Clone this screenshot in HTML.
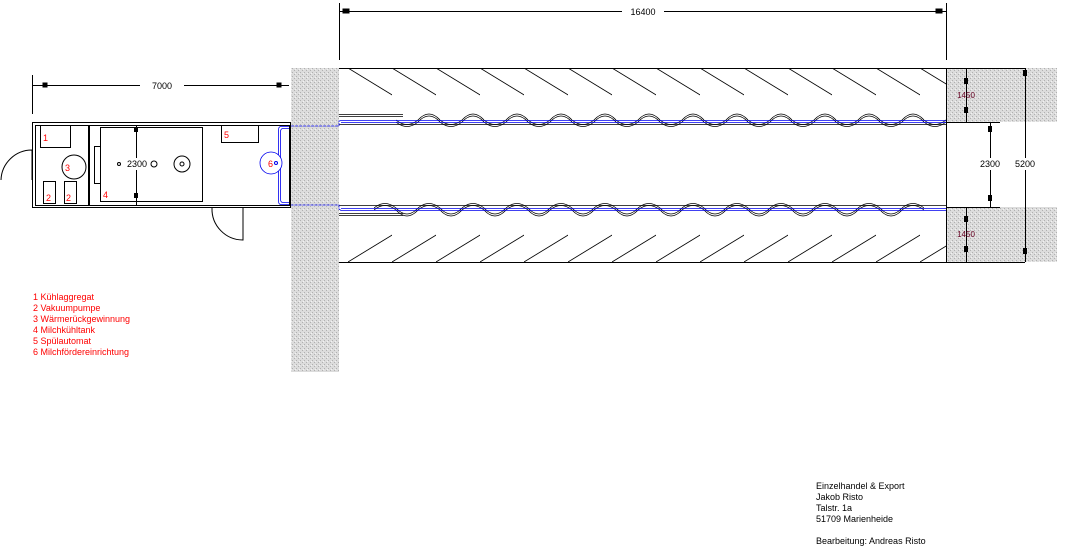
<!DOCTYPE html>
<html><head><meta charset="utf-8"><style>
html,body{margin:0;padding:0;background:#fff;}
svg{display:block;font-family:"Liberation Sans",sans-serif;}
</style></head><body>
<svg width="1078" height="556" viewBox="0 0 1078 556" xmlns="http://www.w3.org/2000/svg">
<defs>
<pattern id="g" width="4" height="4" patternUnits="userSpaceOnUse">
<rect width="4" height="4" fill="#dcdcdc"/><rect x="0" y="0" width="1" height="1" fill="#b0b0b0"/><rect x="2" y="2" width="1" height="1" fill="#b0b0b0"/><rect x="3" y="1" width="1" height="1" fill="#f2f2f2"/>
</pattern>
<pattern id="ht" x="348" y="68" width="44" height="40" patternUnits="userSpaceOnUse">
<line x1="0" y1="0" x2="59" y2="36" stroke="#000" stroke-width="0.8"/>
</pattern>
<pattern id="wt" x="396" y="100" width="44" height="30" patternUnits="userSpaceOnUse">
<path d="M0 20 Q11 29 22 20 Q33 8 44 20" fill="none" stroke="#000" stroke-width="0.8"/>
<path d="M0 22 Q11 31 22 22 Q33 10 44 22" fill="none" stroke="#000" stroke-width="0.8"/>
</pattern>
</defs>
<g stroke="#000" fill="none" stroke-width="1">
<line x1="339.5" y1="3" x2="339.5" y2="60"/><line x1="946.5" y1="3" x2="946.5" y2="60"/>
<line x1="339" y1="11.5" x2="946" y2="11.5"/>
<rect x="343" y="9" width="6" height="4" fill="#000"/><rect x="936" y="9" width="6" height="4" fill="#000"/>
<line x1="32.5" y1="75" x2="32.5" y2="114"/>
<line x1="32" y1="85.5" x2="289" y2="85.5"/>
<rect x="43" y="83" width="4" height="4" fill="#000"/><rect x="277" y="83" width="4" height="4" fill="#000"/>
</g>
<rect x="140" y="78" width="44" height="12" fill="#fff"/>
<text x="162" y="89" font-size="9" text-anchor="middle">7000</text>
<rect x="622" y="5" width="42" height="12" fill="#fff"/>
<text x="643" y="15" font-size="9" text-anchor="middle">16400</text>

<rect x="291" y="68" width="48" height="304" fill="url(#g)"/>
<rect x="946" y="68" width="111" height="54" fill="url(#g)"/>
<rect x="946" y="207" width="111" height="55" fill="url(#g)"/>

<g stroke="#000" fill="none">
<line x1="339" y1="68.5" x2="1025" y2="68.5"/>
<line x1="339" y1="262.5" x2="1025" y2="262.5"/>
<line x1="946.5" y1="68" x2="946.5" y2="262"/>
<line x1="946" y1="122.5" x2="1000" y2="122.5"/>
<line x1="946" y1="207.5" x2="1000" y2="207.5"/>
<line x1="990.5" y1="122" x2="990.5" y2="207"/>
<line x1="1025.5" y1="68" x2="1025.5" y2="262"/>
<line x1="966.5" y1="68" x2="966.5" y2="122"/>
<line x1="966.5" y1="207" x2="966.5" y2="262"/>
</g>
<g fill="#000">
<rect x="964" y="78" width="4" height="6"/><rect x="964" y="107" width="4" height="6"/>
<rect x="964" y="216" width="4" height="6"/><rect x="964" y="246" width="4" height="6"/>
<rect x="988" y="126" width="4" height="6"/><rect x="988" y="195" width="4" height="6"/>
<rect x="1023" y="70" width="4" height="6"/><rect x="1023" y="248" width="4" height="6"/>
</g>
<rect x="975" y="158" width="30" height="12" fill="#fff"/>
<rect x="1010" y="158" width="30" height="12" fill="#fff"/>
<text x="990" y="167" font-size="9" text-anchor="middle">2300</text>
<text x="1025" y="167" font-size="9" text-anchor="middle">5200</text>
<text x="966" y="98" font-size="8" text-anchor="middle" fill="#602">1450</text>
<text x="966" y="237" font-size="8" text-anchor="middle" fill="#602">1450</text>

<rect x="348" y="68" width="598" height="37" fill="url(#ht)"/>
<g transform="translate(0,330) scale(1,-1)">
<rect x="348" y="68" width="598" height="37" fill="url(#ht)"/>
<rect x="396" y="100" width="550" height="30" fill="url(#wt)" transform="translate(-22,0)"/>
</g>
<rect x="396" y="100" width="550" height="30" fill="url(#wt)"/>
<g stroke="#000" fill="none" stroke-width="0.8">
<line x1="339" y1="114.5" x2="403" y2="114.5"/><line x1="339" y1="116.5" x2="403" y2="116.5"/>
<line x1="339" y1="124.5" x2="946" y2="124.5"/>
<line x1="339" y1="213.5" x2="403" y2="213.5"/><line x1="339" y1="215.5" x2="403" y2="215.5"/>
<line x1="339" y1="205.5" x2="946" y2="205.5"/>
</g>
<g stroke="#0000ee" fill="none" stroke-width="0.8">
<line x1="341" y1="120.5" x2="946" y2="120.5"/><line x1="341" y1="122.5" x2="946" y2="122.5"/>
<line x1="341" y1="208.5" x2="946" y2="208.5"/><line x1="341" y1="210.5" x2="946" y2="210.5"/>
<path d="M341 120.5 L339 121 L339 126 L291 126" stroke-dasharray="3,1"/>
<path d="M341 210.5 L339 209 L339 205 L291 205" stroke-dasharray="3,1"/>
<path d="M291 126.5 L281 126.5 Q278.5 126.5 278.5 130 L278.5 201 Q278.5 204.5 281 204.5 L291 204.5"/>
<path d="M291 128.5 L283 128.5 Q280.5 128.5 280.5 132 L280.5 199 Q280.5 202.5 283 202.5 L291 202.5"/>
<circle cx="271" cy="163" r="11" fill="#fff"/>
</g>

<g stroke="#000" fill="none">
<rect x="32.5" y="122.5" width="258" height="85"/>
<rect x="35.5" y="125.5" width="254" height="80"/>
<line x1="89" y1="125" x2="89" y2="205" stroke-width="2"/>
<rect x="100.5" y="127.5" width="102" height="74"/>
<rect x="94.5" y="146.5" width="6" height="37"/>
<rect x="40.5" y="125.5" width="30" height="22"/>
<circle cx="74" cy="167" r="12"/>
<rect x="43.5" y="181.5" width="12" height="22"/>
<rect x="64.5" y="181.5" width="12" height="22"/>
<rect x="221.5" y="125.5" width="37" height="17"/>
<line x1="136.5" y1="125" x2="136.5" y2="205"/>
<circle cx="182" cy="164" r="8"/>
<circle cx="182" cy="164" r="2"/>
<circle cx="119" cy="164" r="1.5"/>
<circle cx="154" cy="164" r="3"/>
<path d="M1 180 A31 31 0 0 1 32 150 M32 150 L32 180"/>
<path d="M212 208 A31 31 0 0 0 243 240 L243 208"/>
</g>
<rect x="134" y="127" width="4" height="5" fill="#000"/><rect x="134" y="193" width="4" height="5" fill="#000"/>
<rect x="125" y="158" width="24" height="12" fill="#fff"/>
<text x="137" y="167" font-size="9" text-anchor="middle">2300</text>
<circle cx="276" cy="163" r="1.5" fill="none" stroke="#00e"/>
<g fill="#f00" font-size="9">
<text x="43" y="141">1</text><text x="65" y="171">3</text>
<text x="46" y="201">2</text><text x="66" y="201">2</text>
<text x="103" y="198">4</text><text x="224" y="138">5</text>
<text x="268" y="167">6</text>
<text x="33" y="300">1 Kühlaggregat</text>
<text x="33" y="311">2 Vakuumpumpe</text>
<text x="33" y="322">3 Wärmerückgewinnung</text>
<text x="33" y="333">4 Milchkühltank</text>
<text x="33" y="344">5 Spülautomat</text>
<text x="33" y="355">6 Milchfördereinrichtung</text>
</g>
<g font-size="9" fill="#000">
<text x="816" y="489">Einzelhandel &amp; Export</text>
<text x="816" y="500">Jakob Risto</text>
<text x="816" y="511">Talstr. 1a</text>
<text x="816" y="522">51709 Marienheide</text>
<text x="816" y="544">Bearbeitung: Andreas Risto</text>
</g>
</svg>
</body></html>
